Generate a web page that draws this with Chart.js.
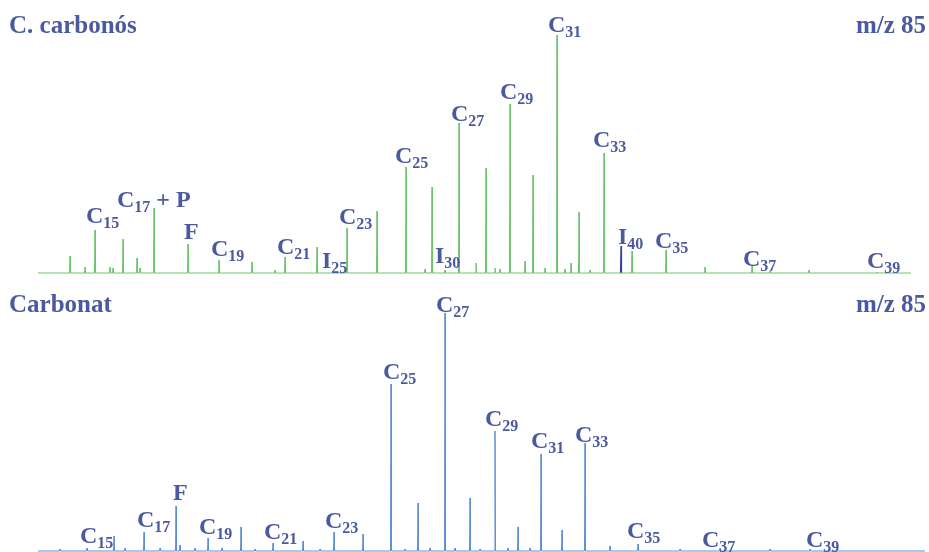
<!DOCTYPE html>
<html lang="ca">
<head>
    <meta charset="UTF-8">
    <title>Cromatogrames m/z 85</title>
    <style>
        body { margin: 0; background: #fff; }
        .panel { position: absolute; left: 0; width: 929px; height: 276px; }
        #topPanel { top: 0; }
        #bottomPanel { top: 276px; }
    </style>
</head>
<body>
    <div class="panel" id="topPanel"><canvas id="topChart"></canvas></div>
    <div class="panel" id="bottomPanel"><canvas id="bottomChart"></canvas></div>

    <script src="https://cdn.jsdelivr.net/npm/chart.js"></script>
    <script>
        // --- data: C. carbonós (m/z 85) ---
        const topPeakX = [70, 85, 95, 110, 113, 123, 137, 140, 154, 188, 219, 252, 275, 285, 317, 347, 377, 406, 425, 432,
                          445, 459, 476, 486, 495, 500, 510, 525, 533, 545, 557, 565, 571, 579, 590, 604, 632, 666, 705, 752, 770, 809, 877];
        const topPeakH = [17, 6, 43, 6, 5, 34, 15, 5, 65, 29, 13, 11, 3, 16, 26, 45, 62, 106, 4, 86,
                          3, 150, 10, 105, 5, 4, 169, 12, 98, 5, 238, 4, 10, 61, 3, 120, 22, 23, 6, 8, 2, 3, 1];
        const topRange = [38, 911];
        const topMarkerX = [621];
        const topMarkerH = [27];
        const topLabelText = ['C|15', 'C|17| + P', 'F', 'C|19', 'C|21', 'I|25', 'C|23', 'C|25', 'I|30', 'C|27',
                              'C|29', 'C|31', 'C|33', 'I|40', 'C|35', 'C|37', 'C|39'];
        const topLabelX = [86, 117, 184, 211, 277, 322, 339, 395, 435, 451, 500, 548, 593, 618, 655, 743, 867];
        const topLabelY = [50, 66, 34, 17, 19, 5, 49, 110, 10, 152, 174, 241, 126, 29, 25, 7, 5];

        // --- data: Carbonat (m/z 85) ---
        const botPeakX = [60, 87, 114, 125, 144, 160, 176, 180, 195, 208, 222, 241, 255, 273, 303, 320, 334, 363, 391, 405,
                          418, 430, 445, 455, 470, 480, 495, 508, 518, 530, 541, 562, 585, 610, 638, 680, 720, 770, 810];
        const botPeakH = [2, 3, 15, 3, 19, 3, 45, 6, 3, 13, 3, 24, 2, 8, 10, 2, 19, 17, 167, 2,
                          48, 3, 238, 3, 53, 2, 120, 3, 24, 3, 97, 21, 108, 5, 7, 2, 3, 2, 2];
        const botRange = [38, 925];
        const botLabelText = ['C|15', 'C|17', 'F', 'C|19', 'C|21', 'C|23', 'C|25', 'C|27', 'C|29', 'C|31', 'C|33', 'C|35', 'C|37', 'C|39'];
        const botLabelX = [80, 137, 173, 199, 264, 325, 383, 436, 485, 531, 575, 627, 702, 806];
        const botLabelY = [8, 24, 51, 17, 12, 23, 172, 239, 125, 103, 109, 13, 4, 4];

        const textColor = '#4b5aa0';
        const serif = '"Liberation Serif", "Times New Roman", serif';

        // build a spike trace (baseline - apex - baseline) for each peak
        function trace(xs, hs, range) {
            const pts = [{ x: range[0], y: 0 }];
            xs.forEach((x, i) => {
                pts.push({ x: x - 0.5, y: 0 }, { x: x, y: hs[i] }, { x: x + 0.5, y: 0 });
            });
            pts.push({ x: range[1], y: 0 });
            return pts;
        }

        // draws peak labels with subscripts plus the panel titles
        const labelPlugin = {
            id: 'peakLabels',
            afterDatasetsDraw(chart, args, opts) {
                const c = chart.ctx;
                const xs = chart.scales.x, ys = chart.scales.y;
                c.save();
                c.fillStyle = textColor;
                c.textBaseline = 'alphabetic';
                opts.text.forEach((t, i) => {
                    const parts = t.split('|');
                    let px = xs.getPixelForValue(opts.x[i]);
                    const py = ys.getPixelForValue(opts.y[i]);
                    c.font = 'bold 24px ' + serif;
                    c.fillText(parts[0], px, py);
                    px += c.measureText(parts[0]).width;
                    if (parts[1]) {
                        c.font = 'bold 16px ' + serif;
                        c.fillText(parts[1], px, py + 5);
                        px += c.measureText(parts[1]).width;
                    }
                    if (parts[2]) {
                        c.font = 'bold 24px ' + serif;
                        c.fillText(parts[2], px, py);
                    }
                });
                c.font = 'bold 25px ' + serif;
                c.textAlign = 'left';
                c.fillText(opts.title, 9, opts.titleY);
                c.textAlign = 'right';
                c.fillText('m/z 85', 926, opts.titleY);
                c.restore();
            }
        };

        function makeChart(id, datasets, yMin, yMax, labels) {
            return new Chart(document.getElementById(id), {
                type: 'line',
                data: { datasets: datasets },
                options: {
                    responsive: true,
                    maintainAspectRatio: false,
                    animation: false,
                    layout: { padding: 0 },
                    elements: { point: { radius: 0 }, line: { tension: 0 } },
                    scales: {
                        x: { type: 'linear', min: 0, max: 929, display: false },
                        y: { min: yMin, max: yMax, display: false }
                    },
                    plugins: {
                        legend: { display: false },
                        tooltip: { enabled: false },
                        peakLabels: labels
                    }
                },
                plugins: [labelPlugin]
            });
        }

        makeChart('topChart', [
            { data: trace(topPeakX, topPeakH, topRange), borderColor: '#6cc46c', borderWidth: 1, fill: false },
            { data: trace(topMarkerX, topMarkerH, [topMarkerX[0] - 0.5, topMarkerX[0] + 0.5]), borderColor: '#2f3f9c', borderWidth: 1.2, fill: false }
        ], -3, 273, { text: topLabelText, x: topLabelX, y: topLabelY, title: 'C. carbonós', titleY: 33 });

        makeChart('bottomChart', [
            { data: trace(botPeakX, botPeakH, botRange), borderColor: '#5e8fd2', borderWidth: 1, fill: false }
        ], -1, 275, { text: botLabelText, x: botLabelX, y: botLabelY, title: 'Carbonat', titleY: 36 });
    </script>
</body>
</html>
